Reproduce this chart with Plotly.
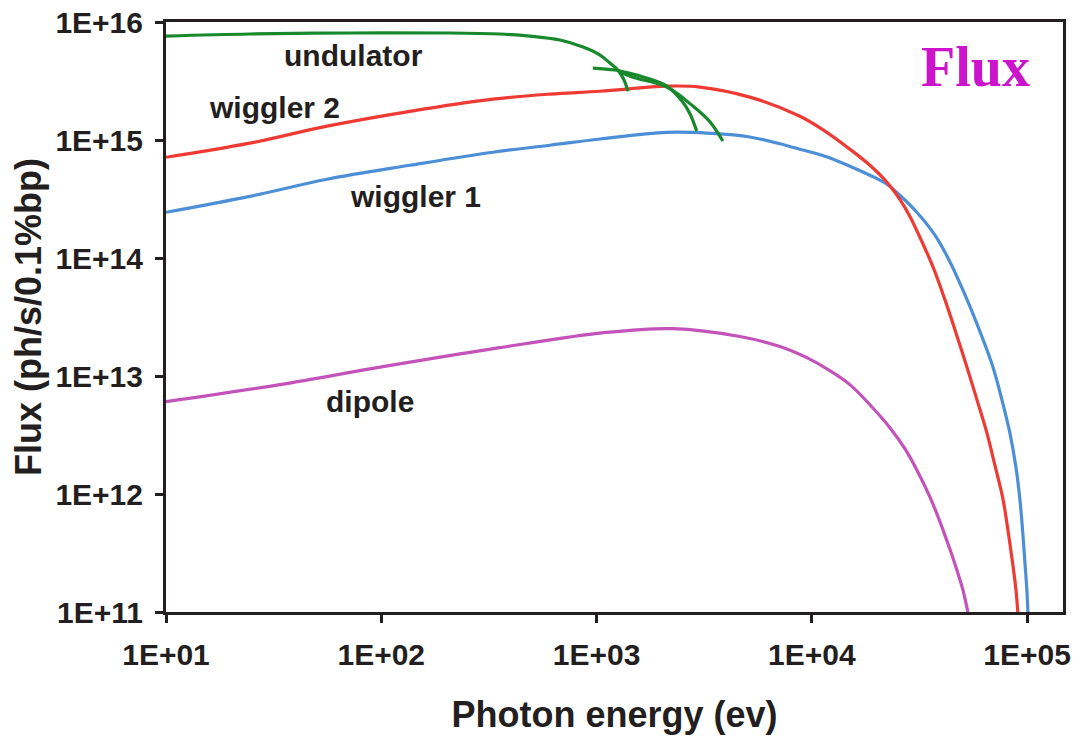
import plotly.graph_objects as go

# ---- data (photon energy in eV, flux in ph/s/0.1%bp) ----
wig2_E = [10, 24.5, 56, 136, 330, 608, 1038, 2123, 3020, 5152, 8810, 11510, 15030, 18620, 22340, 25650,
          28570, 32450, 36490, 41500, 46670, 52500, 58480, 65030, 70800, 77270, 81470, 85910, 88720, 90600]
wig2_F = [7.14e14, 9.40e14, 1.31e15, 1.75e15, 2.22e15, 2.45e15, 2.59e15, 2.86e15, 2.81e15, 2.31e15, 1.59e15,
          1.19e15, 8.36e14, 6.11e14, 4.39e14, 3.14e14, 2.25e14, 1.38e14, 8.49e13, 4.46e13, 2.34e13, 1.20e13,
          6.31e12, 3.31e12, 1.77e12, 9.10e11, 4.97e11, 2.51e11, 1.57e11, 1.0e11]

wig1_E = [10, 24.5, 56, 136, 330, 608, 1038, 2123, 3365, 5152, 8810, 11510, 15030, 18620, 22340, 25650,
          30760, 37330, 43750, 51400, 59160, 69350, 76380, 83180, 88720, 92680, 95700, 97700, 99800, 100900]
wig1_F = [2.44e14, 3.33e14, 4.65e14, 6.11e14, 7.88e14, 9.03e14, 1.02e15, 1.16e15, 1.14e15, 1.06e15, 8.36e14,
          7.28e14, 6.00e14, 5.03e14, 4.22e14, 3.40e14, 2.44e14, 1.56e14, 9.35e13, 4.91e13, 2.63e13, 1.20e13,
          6.31e12, 3.31e12, 1.70e12, 8.93e11, 4.51e11, 2.66e11, 1.54e11, 1.0e11]

dip_E = [10, 33.8, 101.8, 355.6, 1107, 2265, 4634, 7110, 9485, 12130, 15030, 18620, 23070, 27060, 30760,
         35370, 39400, 43750, 47210, 50350, 53090]
dip_F = [6.07e12, 8.45e12, 1.20e13, 1.74e13, 2.34e13, 2.52e13, 2.16e13, 1.78e13, 1.43e13, 1.11e13, 8.45e12,
         5.71e12, 3.65e12, 2.42e12, 1.60e12, 9.47e11, 5.81e11, 3.43e11, 2.27e11, 1.54e11, 1.0e11]

und1_E = [10, 24.5, 71.6, 208.5, 355.6, 490.6, 676.8, 865.5, 1038, 1154, 1244, 1313, 1355, 1400]
und1_F = [7.60e15, 7.91e15, 8.07e15, 8.07e15, 7.91e15, 7.60e15, 7.03e15, 6.13e15, 5.25e15, 4.49e15,
          3.99e15, 3.48e15, 3.10e15, 2.59e15]

und2_E = [962, 1216, 1475, 1770, 2120, 2520, 2720, 2920]
und2_F = [4.07e15, 3.92e15, 3.62e15, 3.28e15, 2.86e15, 2.09e15, 1.66e15, 1.19e15]

und3_E = [1285, 1475, 2120, 2800, 3370, 3860]
und3_F = [3.77e15, 3.41e15, 2.81e15, 1.94e15, 1.42e15, 9.8e14]

x_tickvals = [10, 100, 1000, 10000, 100000]
x_ticktext = ["1E+01", "1E+02", "1E+03", "1E+04", "1E+05"]
y_tickvals = [1e11, 1e12, 1e13, 1e14, 1e15, 1e16]
y_ticktext = ["1E+11", "1E+12", "1E+13", "1E+14", "1E+15", "1E+16"]

RED = "#ee3a33"
BLUE = "#4d8fd6"
GREEN = "#17892c"
MAG = "#c452bb"
INK = "#231f20"

fig = go.Figure()
def add(x, y, c):
    fig.add_trace(go.Scatter(x=x, y=y, mode="lines",
                             line=dict(color=c, width=3.2, shape="spline", smoothing=1.0),
                             showlegend=False, hoverinfo="skip"))

add(dip_E, dip_F, MAG)
add(wig1_E, wig1_F, BLUE)
add(wig2_E, wig2_F, RED)
add(und1_E, und1_F, GREEN)
add(und2_E, und2_F, GREEN)
add(und3_E, und3_F, GREEN)

lab_font = dict(family="Liberation Sans, Arial", size=30, color=INK, weight="bold")
labels = [("undulator", 1.869, 15.72), ("wiggler 2", 1.506, 15.278),
          ("wiggler 1", 2.161, 14.523), ("dipole", 1.947, 12.783)]
for t, lx, ly in labels:
    fig.add_annotation(x=lx, y=ly, xref="x", yref="y", text=t, showarrow=False,
                       font=lab_font, xanchor="center", yanchor="middle")

fig.add_annotation(x=4.762, y=15.62, xref="x", yref="y", text="Flux", showarrow=False,
                   font=dict(family="Liberation Serif, Times New Roman", size=56,
                             color="#cc14cc", weight="bold"),
                   xanchor="center", yanchor="middle")

tick_font = dict(family="Liberation Sans, Arial", size=30, color=INK, weight="bold")
title_font = dict(family="Liberation Sans, Arial", size=36, color=INK, weight="bold")

fig.update_xaxes(type="log", range=[1, 5.167], tickvals=x_tickvals, ticktext=x_ticktext,
                 ticks="outside", ticklen=8, tickwidth=3, tickcolor=INK,
                 showline=True, linewidth=3, linecolor=INK, mirror=True,
                 showgrid=False, zeroline=False, tickfont=tick_font, automargin=False,
                 ticklabelstandoff=6, ticklabeloverflow="allow",
                 title=dict(text="Photon energy (ev)", font=title_font, standoff=32))
fig.update_yaxes(type="log", range=[11, 16], tickvals=y_tickvals, ticktext=y_ticktext,
                 ticks="outside", ticklen=8, tickwidth=3, tickcolor=INK,
                 showline=True, linewidth=3, linecolor=INK, mirror=True,
                 showgrid=False, zeroline=False, tickfont=tick_font, automargin=False,
                 ticklabelstandoff=6, ticklabeloverflow="allow",
                 title=dict(text="Flux (ph/s/0.1%bp)", font=title_font, standoff=3))

fig.update_layout(width=1080, height=744, plot_bgcolor="white", paper_bgcolor="white",
                  margin=dict(l=166, r=17, t=22, b=132))

fig.write_html("out.html", config={"displayModeBar": False},
               post_script="document.body.style.margin='0px';")
